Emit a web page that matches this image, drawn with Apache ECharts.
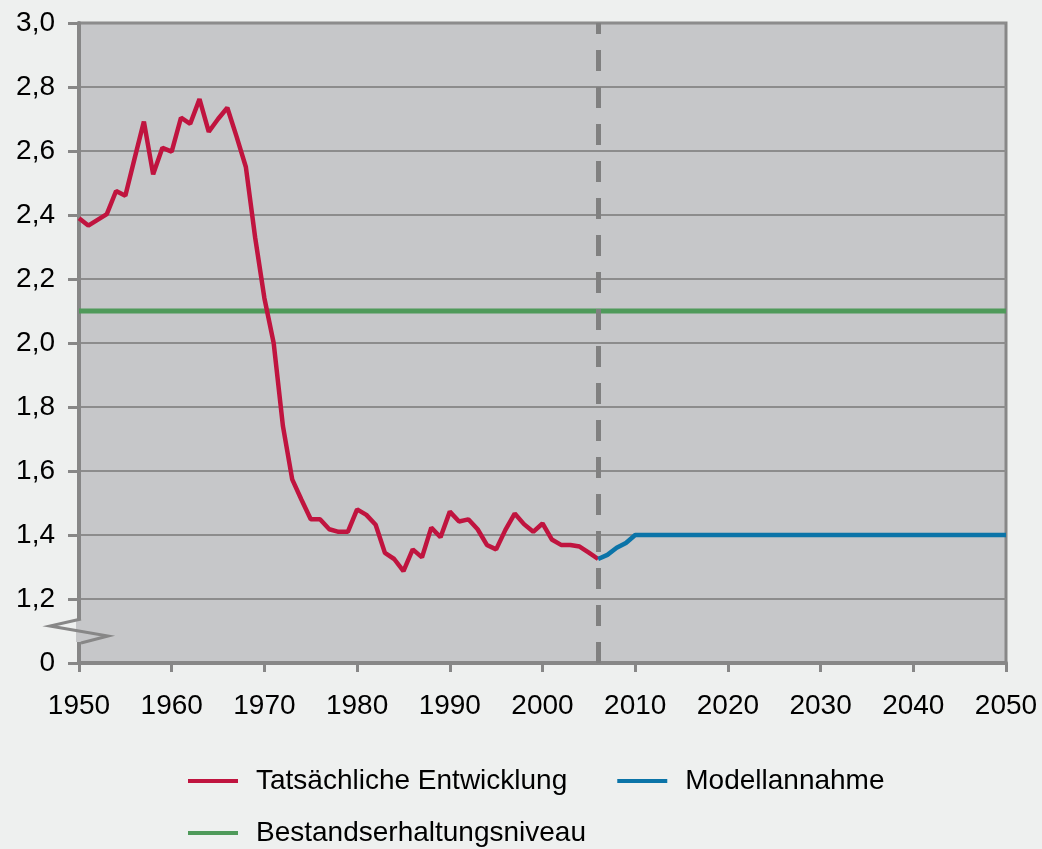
<!DOCTYPE html>
<html>
<head>
<meta charset="utf-8">
<script src="https://cdn.jsdelivr.net/npm/echarts@6/dist/echarts.min.js"></script>
<style>
  html, body { margin: 0; padding: 0; background: #eef0ef; }
  #chart { width: 1042px; height: 849px; }
</style>
</head>
<body>
<div id="chart"></div>
<script>
// Daten
const actualYears = [1950, 1951, 1952, 1953, 1954, 1955, 1956, 1957, 1958, 1959,
  1960, 1961, 1962, 1963, 1964, 1965, 1966, 1967, 1968, 1969,
  1970, 1971, 1972, 1973, 1974, 1975, 1976, 1977, 1978, 1979,
  1980, 1981, 1982, 1983, 1984, 1985, 1986, 1987, 1988, 1989,
  1990, 1991, 1992, 1993, 1994, 1995, 1996, 1997, 1998, 1999,
  2000, 2001, 2002, 2003, 2004, 2005, 2006]
const actualValues = [2.39, 2.367, 2.385, 2.403, 2.475, 2.46, 2.577, 2.692, 2.527, 2.61,
  2.598, 2.704, 2.685, 2.762, 2.66, 2.70, 2.735, 2.645, 2.55, 2.33,
  2.14, 2.0, 1.74, 1.574, 1.51, 1.449, 1.449, 1.418, 1.41, 1.41,
  1.48, 1.463, 1.432, 1.344, 1.325, 1.287, 1.355, 1.33, 1.423, 1.393,
  1.473, 1.442, 1.449, 1.418, 1.369, 1.355, 1.416, 1.467, 1.434, 1.41,
  1.436, 1.386, 1.369, 1.369, 1.364, 1.345, 1.325]

const modelYears = [2006, 2007, 2008, 2009, 2010, 2050]
const modelValues = [1.325, 1.338, 1.36, 1.375, 1.40, 1.40]

const levelYears = [1950, 2050]
const levelValues = [2.1, 2.1]

const cutYear = 2006

const seriesNames = ['Tatsächliche Entwicklung', 'Modellannahme', 'Bestandserhaltungsniveau']

const zip = (xs, ys) => xs.map((x, i) => [x, ys[i]])

const font = "'Liberation Sans', Arial, sans-serif"
const fontSize = 28
const axisGray = '#878787'
const plotBg = '#c6c7c9'

let chart = echarts.init(document.getElementById('chart'))

let legendText = { fontSize: fontSize, color: '#000', fontFamily: font, padding: [0, 0, 0, 13] }

let option = {
  backgroundColor: '#eef0ef',
  animation: false,
  textStyle: { fontFamily: font },
  grid: {
    left: 79, right: 36, top: 23, bottom: 186,
    show: true,
    backgroundColor: plotBg,
    borderColor: axisGray,
    borderWidth: 3
  },
  legend: [
    {
      data: seriesNames.slice(0, 2),
      left: 188, top: 767,
      padding: 0,
      icon: 'rect',
      itemWidth: 50, itemHeight: 4,
      itemGap: 50,
      textStyle: legendText
    },
    {
      data: [seriesNames[2]],
      left: 188, top: 819,
      padding: 0,
      icon: 'rect',
      itemWidth: 50, itemHeight: 4,
      textStyle: legendText
    }
  ],
  xAxis: {
    type: 'value',
    min: 1950, max: 2050, interval: 10,
    axisLine: { show: true, lineStyle: { color: axisGray, width: 4 } },
    axisTick: { show: true, length: 9, lineStyle: { color: axisGray, width: 3 } },
    axisLabel: { fontSize: fontSize, color: '#000', margin: 29, fontFamily: font, formatter: v => String(v) },
    splitLine: { show: false }
  },
  yAxis: {
    type: 'value',
    min: 1, max: 3, interval: 0.2,
    axisLine: { show: true, lineStyle: { color: axisGray, width: 4 } },
    axisTick: { show: true, length: 11, lineStyle: { color: axisGray, width: 3 } },
    axisLabel: {
      fontSize: fontSize, color: '#000', margin: 24, fontFamily: font,
      formatter: v => (Math.abs(v - 1) < 1e-9 ? '0' : v.toFixed(1).replace('.', ','))
    },
    splitLine: { show: true, lineStyle: { color: '#8c8c8c', width: 2 } }
  },
  series: [
    {
      name: seriesNames[0],
      type: 'line',
      data: zip(actualYears, actualValues),
      showSymbol: false,
      itemStyle: { color: '#c0143f' },
      lineStyle: { color: '#c0143f', width: 4.5 },
      z: 4,
      markLine: {
        silent: true,
        symbol: 'none',
        label: { show: false },
        lineStyle: { color: '#808080', width: 5, type: [21, 16] },
        data: [{ xAxis: cutYear }]
      }
    },
    {
      name: seriesNames[1],
      type: 'line',
      data: zip(modelYears, modelValues),
      showSymbol: false,
      itemStyle: { color: '#0b74a8' },
      lineStyle: { color: '#0b74a8', width: 4.5 },
      z: 5
    },
    {
      name: seriesNames[2],
      type: 'line',
      data: zip(levelYears, levelValues),
      showSymbol: false,
      itemStyle: { color: '#4f9a5a' },
      lineStyle: { color: '#4f9a5a', width: 5 },
      z: 3
    }
  ]
}
chart.setOption(option)

// Achsenbruch-Zeichen an der y-Achse
let x0 = chart.convertToPixel({ xAxisIndex: 0 }, 1950)
let yc = chart.convertToPixel({ yAxisIndex: 0 }, 1.1)
chart.setOption({
  graphic: [
    {
      type: 'rect',
      shape: { x: x0 - 3, y: yc - 11, width: 6, height: 22 },
      style: { fill: plotBg },
      z: 100
    },
    {
      type: 'polyline',
      shape: { points: [[x0 + 2, yc - 12], [x0 - 29, yc - 5], [x0 + 29, yc + 5], [x0 + 2, yc + 12]] },
      style: { stroke: axisGray, lineWidth: 3, fill: null },
      z: 101
    }
  ]
})
</script>
</body>
</html>
